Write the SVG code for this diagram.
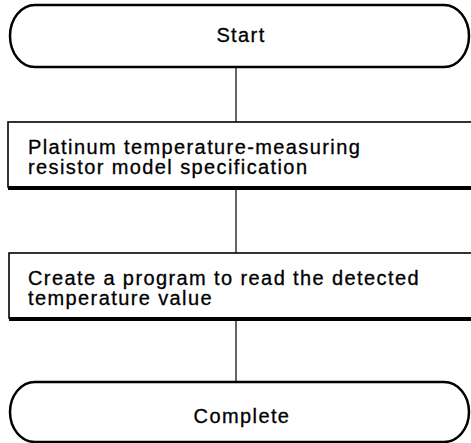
<svg xmlns="http://www.w3.org/2000/svg" width="471" height="443" viewBox="0 0 471 443">
<style>
.term{fill:#fff;stroke:#000;stroke-width:2.5}
.box{fill:#fff;stroke:#000;stroke-width:1.6}
.shadow{fill:#000}
.conn{stroke:#000;stroke-width:1.2;fill:none}
text{font-family:"Liberation Sans",Arial,sans-serif;font-size:20px;letter-spacing:1.4px;fill:#000;stroke:#000;stroke-width:0.3}
.c{text-anchor:middle}
</style>
<rect width="471" height="443" fill="#fff"/>
<g id="connectors">
<line class="conn" x1="236" y1="67" x2="236" y2="122"/>
<line class="conn" x1="236" y1="190" x2="236" y2="253"/>
<line class="conn" x1="236" y1="321" x2="236" y2="382"/>
</g>
<g id="start">
<rect class="term" x="10" y="5" width="459" height="62" rx="25" ry="31"/>
<text class="c" x="241" y="42">Start</text>
</g>
<g id="spec">
<rect class="box" x="8" y="122" width="470" height="65"/>
<rect class="shadow" x="8" y="186" width="463" height="4"/>
<text x="28" y="154">Platinum temperature-measuring</text>
<text x="28" y="174">resistor model specification</text>
</g>
<g id="program">
<rect class="box" x="9" y="253" width="470" height="65"/>
<rect class="shadow" x="9" y="317" width="462" height="4"/>
<text x="28" y="285">Create a program to read the detected</text>
<text x="28" y="305">temperature value</text>
</g>
<g id="complete">
<rect class="term" x="10" y="382" width="459" height="60" rx="25" ry="30"/>
<text class="c" x="242" y="423">Complete</text>
</g>
</svg>
